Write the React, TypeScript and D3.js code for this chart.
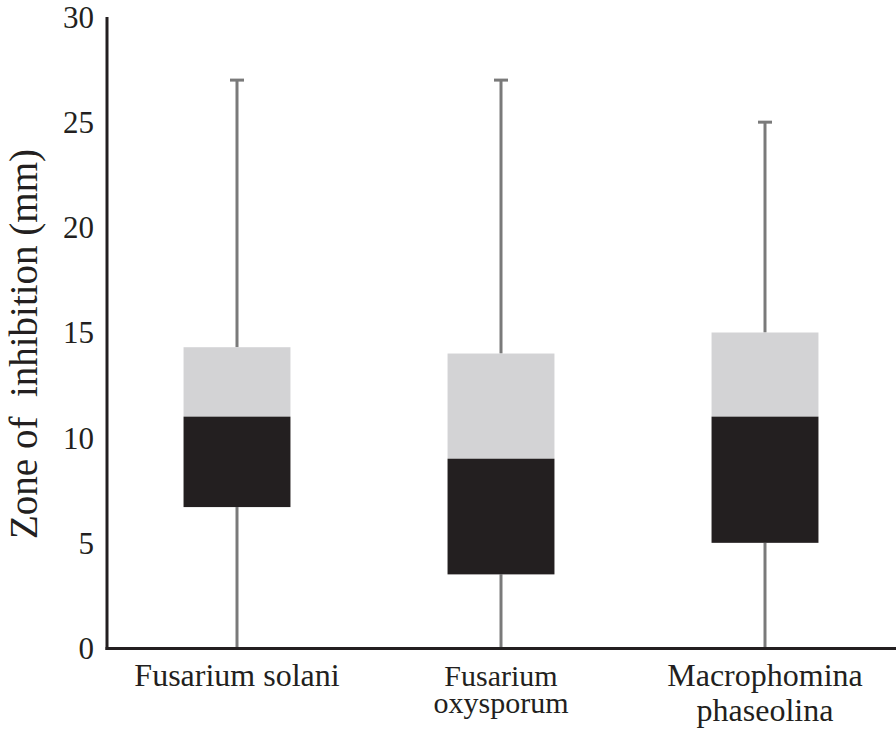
import React from "react";
import * as d3 from "d3";

const categories = ["Fusarium solani", "Fusarium oxysporum", "Macrophomina phaseolina"];
const labelLines = [["Fusarium solani"], ["Fusarium", "oxysporum"], ["Macrophomina", "phaseolina"]];
const minVals = [0, 0, 0];
const q1Vals = [6.7, 3.5, 5];
const medianVals = [11, 9, 11];
const q3Vals = [14.3, 14, 15];
const maxVals = [27, 27, 25];
const yTicks = [0, 5, 10, 15, 20, 25, 30];

const W = 896;
const H = 732;

export default function App() {
  const y = d3.scaleLinear().domain([0, 30]).range([648, 17]);
  const x = d3.scaleBand<string>().domain(categories).range([105, 897]).padding(0);
  const bw = x.bandwidth() * 0.405;
  const capW = 14;
  const font = "Liberation Serif";
  const dark = "#231f20";
  const light = "#d3d3d5";
  const whisk = "#7a7a7a";
  const labelSizes = [32, 30, 32];
  const lineGaps = [0, 27, 35];

  return (
    <svg width={W} height={H} style={{ position: "absolute", left: 0, top: 0, background: "#fff" }}>
      {categories.map((c, i) => {
        const cx = (x(c) as number) + x.bandwidth() / 2;
        return (
          <g key={c}>
            <line x1={cx} x2={cx} y1={y(maxVals[i])} y2={y(q3Vals[i])} stroke={whisk} strokeWidth={3} />
            <line x1={cx - capW / 2} x2={cx + capW / 2} y1={y(maxVals[i])} y2={y(maxVals[i])} stroke={whisk} strokeWidth={3} />
            <line x1={cx} x2={cx} y1={y(q1Vals[i])} y2={y(minVals[i])} stroke={whisk} strokeWidth={3} />
            <rect x={cx - bw / 2} y={y(q3Vals[i])} width={bw} height={y(medianVals[i]) - y(q3Vals[i])} fill={light} />
            <rect x={cx - bw / 2} y={y(medianVals[i])} width={bw} height={y(q1Vals[i]) - y(medianVals[i])} fill={dark} />
            {labelLines[i].map((t, j) => (
              <text
                key={j}
                x={cx}
                y={686 + j * lineGaps[i]}
                textAnchor="middle"
                fontFamily={font}
                fontSize={labelSizes[i]}
                fill={dark}
              >
                {t}
              </text>
            ))}
          </g>
        );
      })}
      <line x1={107} x2={107} y1={17} y2={650} stroke={dark} strokeWidth={3} />
      <line x1={105.5} x2={896} y1={648.5} y2={648.5} stroke={dark} strokeWidth={3} />
      {yTicks.map((t) => (
        <text
          key={t}
          x={94}
          y={y(t)}
          dy="0.35em"
          textAnchor="end"
          fontFamily={font}
          fontSize={31}
          fill={dark}
        >
          {t}
        </text>
      ))}
      <text
        transform={`translate(37, 344) rotate(-90)`}
        textAnchor="middle"
        fontFamily={font}
        fontSize={39}
        fill={dark}
        style={{ whiteSpace: "pre" }}
      >
        {"Zone of  inhibition (mm)"}
      </text>
    </svg>
  );
}
